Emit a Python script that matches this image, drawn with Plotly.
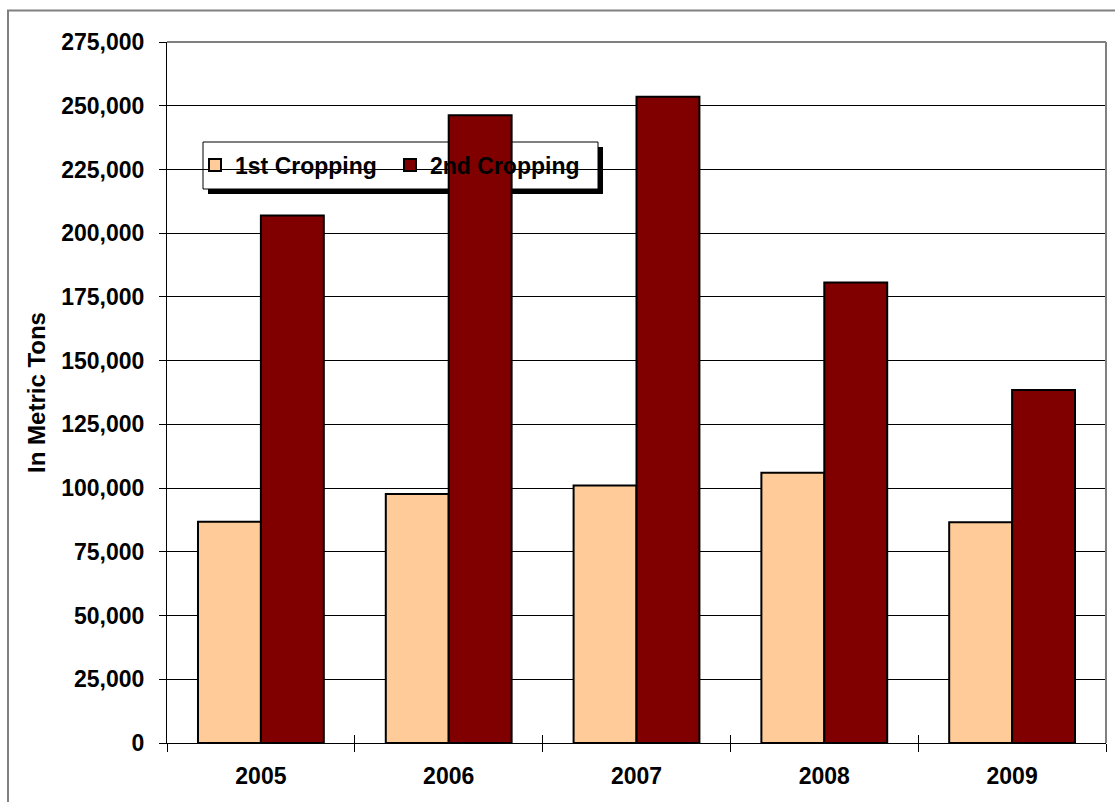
import plotly.graph_objects as go

years = ["2005", "2006", "2007", "2008", "2009"]
first_cropping = [86800, 97700, 101000, 106000, 86600]
second_cropping = [206900, 246300, 253500, 180700, 138500]
series_names = ["1st Cropping", "2nd Cropping"]
y_ticks = list(range(0, 275001, 25000))

FONT = "Liberation Sans, Arial, sans-serif"

# figure geometry (pixels)
W, H = 1115, 802
L, R, T, B = 167, 9, 42, 59
pw, ph = W - L - R, H - T - B

def px_x(p):
    return (p - L) / pw

def px_y(p):
    return (H - B - p) / ph

fig = go.Figure()
fig.add_trace(go.Bar(
    x=years, y=first_cropping, name=series_names[0],
    marker=dict(color="#FFCC99", line=dict(color="black", width=2)),
))
fig.add_trace(go.Bar(
    x=years, y=second_cropping, name=series_names[1],
    marker=dict(color="#800000", line=dict(color="black", width=2)),
))
# invisible helper trace so the overlay axis (inner half of the cross ticks) has categories
fig.add_trace(go.Scatter(
    x=years, y=first_cropping, xaxis="x2", mode="markers",
    marker=dict(opacity=0), showlegend=False, hoverinfo="skip",
))

shapes = [
    # outer chart border
    dict(type="rect", xref="paper", yref="paper",
         x0=px_x(8), x1=px_x(1125), y0=px_y(812), y1=px_y(10.5),
         line=dict(color="#808080", width=2), fillcolor="rgba(0,0,0,0)", layer="below"),
    # plot-area border (top/right gray)
    dict(type="line", xref="paper", yref="paper", x0=0, x1=1, y0=1, y1=1,
         line=dict(color="#808080", width=2), layer="above"),
    dict(type="line", xref="paper", yref="paper", x0=1, x1=1, y0=0, y1=1,
         line=dict(color="#808080", width=2), layer="above"),
    # legend shadow
    dict(type="rect", xref="paper", yref="paper",
         x0=px_x(208), x1=px_x(603), y0=px_y(194), y1=px_y(147),
         line=dict(width=0), fillcolor="black", layer="between"),
    # legend box
    dict(type="rect", xref="paper", yref="paper",
         x0=px_x(203), x1=px_x(598), y0=px_y(189), y1=px_y(142),
         line=dict(color="black", width=1), fillcolor="white", layer="between"),
]

tick_font = dict(family=FONT, size=23, color="black", weight="bold")
cat_range = [-0.5, len(years) - 0.5]

fig.update_layout(
    width=W, height=H,
    margin=dict(l=L, r=R, t=T, b=B, pad=0),
    paper_bgcolor="white", plot_bgcolor="white",
    barmode="group", bargap=0.33, bargroupgap=0,
    font=dict(family=FONT, color="black", size=22, weight="bold"),
    showlegend=True,
    legend=dict(
        orientation="h", x=px_x(195), xanchor="left",
        y=px_y(165), yanchor="middle",
        bgcolor="rgba(0,0,0,0)", borderwidth=0,
        font=dict(family=FONT, size=23, color="black", weight="bold"),
        entrywidth=150, entrywidthmode="pixels",
        traceorder="normal",
    ),
    shapes=shapes,
    xaxis=dict(
        type="category", categoryorder="array", categoryarray=years,
        range=cat_range,
        showline=True, linecolor="black", linewidth=1,
        ticks="outside", tickson="boundaries", ticklen=8, tickcolor="black", tickwidth=1,
        showgrid=False, zeroline=False,
        tickfont=tick_font,
        ticklabelstandoff=12,
    ),
    xaxis2=dict(
        type="category", categoryorder="array", categoryarray=years,
        range=cat_range,
        overlaying="x", anchor="y", side="bottom",
        showline=False, showgrid=False, zeroline=False,
        ticks="inside", tickson="boundaries", ticklen=8, tickcolor="black", tickwidth=1,
        showticklabels=False,
    ),
    yaxis=dict(
        range=[0, 275000], tickvals=y_ticks, tickformat=",",
        showline=True, linecolor="black", linewidth=1,
        ticks="outside", ticklen=7, tickcolor="black", tickwidth=1,
        showgrid=True, gridcolor="black", gridwidth=1,
        zeroline=False,
        tickfont=tick_font,
        ticklabelstandoff=10,
        title=dict(text="In Metric Tons", standoff=8,
                   font=dict(family=FONT, size=24, color="black", weight="bold")),
    ),
)

fig.write_html("out.html", config={"displayModeBar": False},
               post_script="document.body.style.margin='0px';")
